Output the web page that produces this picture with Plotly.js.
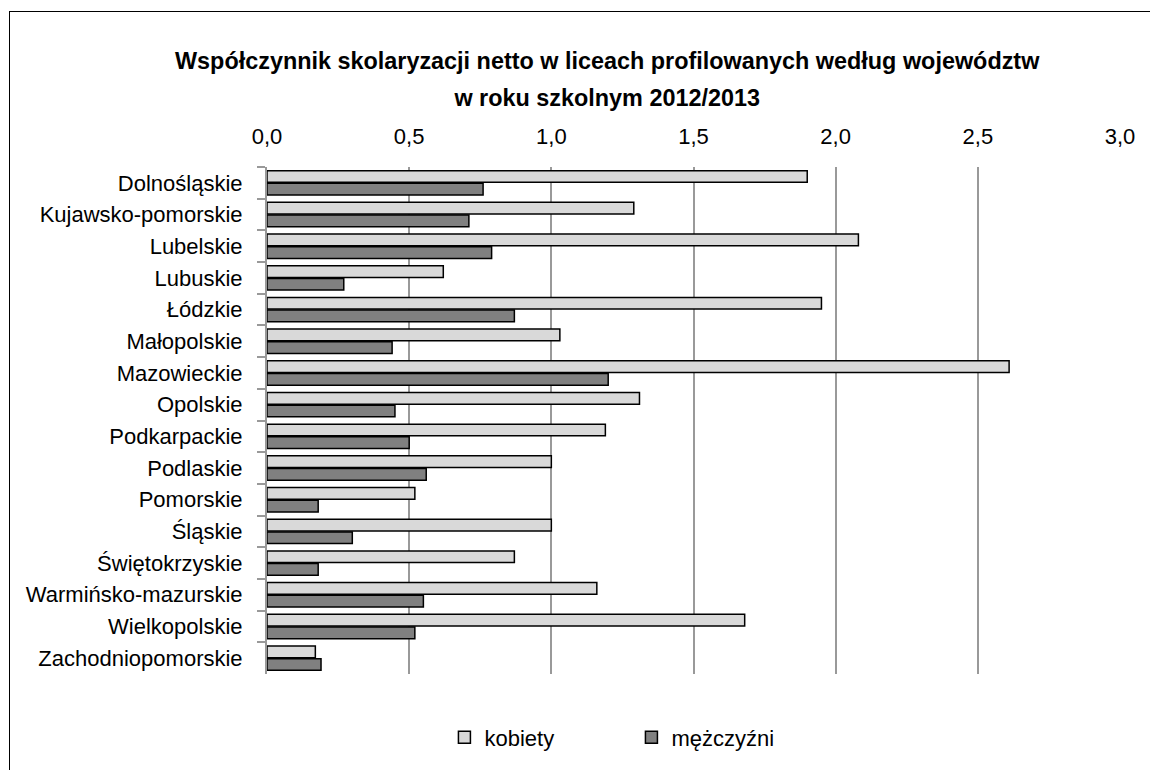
<!DOCTYPE html>
<html>
<head>
<meta charset="utf-8">
<script src="https://cdn.plot.ly/plotly-3.0.1.min.js"></script>
<style>
  html, body { margin: 0; padding: 0; background: #fff; overflow: hidden; }
  #wrap { position: relative; width: 1150px; height: 770px; overflow: hidden; }
  #chart { width: 1150px; height: 770px; }
  #frame { position: absolute; left: 9px; top: 11px; width: 1200px; height: 800px;
           border-left: 1.5px solid #000; border-top: 1.5px solid #000; pointer-events: none; }
</style>
</head>
<body>
<div id="wrap">
  <div id="chart"></div>
  <div id="frame"></div>
</div>
<script>
const categories = [
  "Dolnośląskie", "Kujawsko-pomorskie", "Lubelskie", "Lubuskie", "Łódzkie",
  "Małopolskie", "Mazowieckie", "Opolskie", "Podkarpackie", "Podlaskie",
  "Pomorskie", "Śląskie", "Świętokrzyskie", "Warmińsko-mazurskie",
  "Wielkopolskie", "Zachodniopomorskie"
];
const kobiety = [1.90, 1.29, 2.08, 0.62, 1.95, 1.03, 2.61, 1.31, 1.19, 1.00, 0.52, 1.00, 0.87, 1.16, 1.68, 0.17];
const mezczyzni = [0.76, 0.71, 0.79, 0.27, 0.87, 0.44, 1.20, 0.45, 0.50, 0.56, 0.18, 0.30, 0.18, 0.55, 0.52, 0.19];
const seriesNames = ["kobiety", "mężczyźni"];
const xTickVals = [0, 0.5, 1, 1.5, 2, 2.5, 3];
const xTickText = ["0,0", "0,5", "1,0", "1,5", "2,0", "2,5", "3,0"];
const titleLines = [
  "Współczynnik skolaryzacji netto w liceach profilowanych według województw",
  "w roku szkolnym 2012/2013"
];

const FONT = '"Liberation Sans", Arial, sans-serif';

const traces = [
  {
    type: "bar", orientation: "h", name: seriesNames[0],
    x: kobiety, y: categories,
    marker: { color: "#d9d9d9", line: { color: "#000", width: 1.5 } },
    hoverinfo: "x+y"
  },
  {
    type: "bar", orientation: "h", name: seriesNames[1],
    x: mezczyzni, y: categories,
    marker: { color: "#808080", line: { color: "#000", width: 1.5 } },
    hoverinfo: "x+y"
  }
];

const layout = {
  width: 1150, height: 770,
  paper_bgcolor: "#fff", plot_bgcolor: "#fff",
  margin: { l: 267, r: 30, t: 167, b: 82 },
  font: { family: FONT, size: 22, color: "#000" },
  title: {
    text: titleLines.map(t => "<span style='font-size:23.4px'><b>" + t + "</b></span>").join("<br>"),
    font: { family: FONT, size: 28.5, color: "#000" },
    x: 0.528, xanchor: "center", y: 0.911, yanchor: "middle"
  },
  barmode: "group",
  bargap: 0.2,
  bargroupgap: 0.08,
  xaxis: {
    side: "top",
    range: [0, 3],
    tickvals: xTickVals, ticktext: xTickText,
    showgrid: true, gridcolor: "#999", gridwidth: 2,
    zeroline: false, showline: false, ticks: "",
    tickfont: { family: FONT, size: 22, color: "#000" },
    ticklabelstandoff: 18,
    fixedrange: true
  },
  yaxis: {
    type: "category",
    autorange: "reversed",
    showline: true, linecolor: "#999", linewidth: 2,
    ticks: "outside", tickson: "boundaries", ticklen: 8, tickcolor: "#999", tickwidth: 2,
    showgrid: false,
    tickfont: { family: FONT, size: 22, color: "#000" },
    ticklabelstandoff: 18,
    fixedrange: true
  },
  legend: {
    orientation: "h",
    x: 0.208, xanchor: "left",
    y: -0.125, yanchor: "middle",
    font: { family: FONT, size: 22, color: "#000" },
    entrywidth: 142, entrywidthmode: "pixels",
    traceorder: "normal"
  },
  showlegend: true
};

Plotly.newPlot("chart", traces, layout, { displayModeBar: false, staticPlot: true });
</script>
</body>
</html>
